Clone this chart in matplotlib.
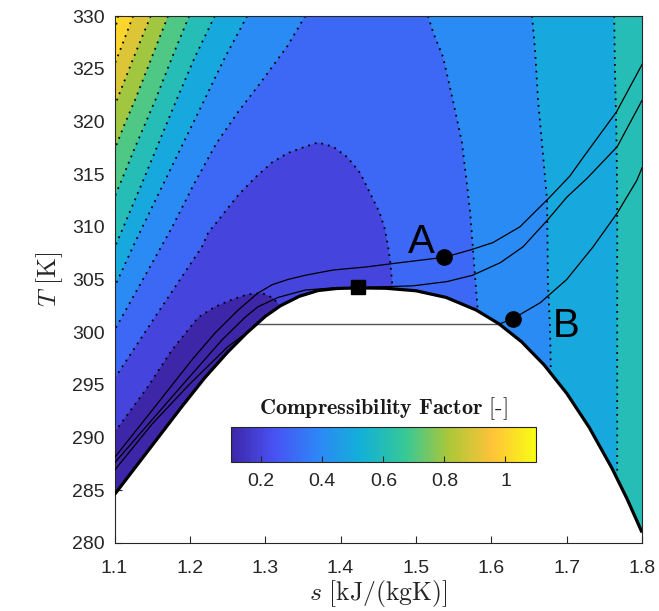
import numpy as np
import matplotlib
matplotlib.use("Agg")
import matplotlib.pyplot as plt
from matplotlib.colors import LinearSegmentedColormap, Normalize
from matplotlib.cm import ScalarMappable

plt.rcParams['font.family'] = ['Liberation Sans', 'DejaVu Sans']
plt.rcParams['mathtext.fontset'] = 'cm'

#%% data (s in kJ/(kgK), T in K)
# saturation dome
dome_s = [1.100, 1.130, 1.160, 1.190, 1.220, 1.250, 1.275, 1.300, 1.320, 1.345,
          1.370, 1.395, 1.423, 1.460, 1.500, 1.540, 1.580, 1.610, 1.640, 1.670,
          1.700, 1.730, 1.760, 1.780, 1.800]
dome_T = [284.6, 287.4, 290.2, 293.0, 295.7, 298.1, 299.9, 301.5, 302.5, 303.4,
          303.95, 304.15, 304.2, 304.17, 303.93, 303.3, 302.1, 300.8, 299.1, 296.9,
          294.2, 290.95, 287.1, 284.2, 281.0]

# compressibility factor contour lines (dotted)
# left branches run from the top edge down to the left edge
c11_s = [1.1046, 1.100]
c11_T = [330.0, 328.4]
c10_s = [1.1246, 1.112, 1.100]
c10_T = [330.0, 327.6, 325.4]
c09_s = [1.148, 1.125, 1.103, 1.100]
c09_T = [330.0, 326.0, 322.0, 321.4]
c08_s = [1.171, 1.149, 1.127, 1.112, 1.100]
c08_T = [330.0, 326.0, 322.0, 319.5, 317.3]
c07_s = [1.199, 1.176, 1.154, 1.127, 1.100]
c07_T = [330.0, 326.0, 322.0, 317.5, 312.8]
c06_s = [1.233, 1.206, 1.182, 1.138, 1.103, 1.100]
c06_T = [330.0, 326.0, 322.0, 314.4, 308.5, 308.1]
c05_s = [1.276, 1.246, 1.219, 1.167, 1.127, 1.100]
c05_T = [330.0, 326.0, 322.0, 314.4, 308.5, 304.3]
c04_s = [1.353, 1.329, 1.293, 1.265, 1.235, 1.205, 1.176, 1.140, 1.100]
c04_T = [330.0, 327.1, 323.6, 321.0, 317.9, 314.0, 309.9, 305.3, 300.2]
# right branches run from the top edge down to the dome
c04r_s = [1.516, 1.523, 1.536, 1.549, 1.561, 1.569, 1.572, 1.576, 1.582]
c04r_T = [330.0, 328.4, 326.1, 322.0, 318.0, 313.2, 311.3, 307.5, 302.0]
c05r_s = [1.654, 1.658, 1.662, 1.668, 1.674, 1.675, 1.678, 1.679]
c05r_T = [330.0, 326.8, 322.0, 317.3, 312.5, 305.0, 300.2, 295.8]
c06r_s = [1.763, 1.764, 1.766, 1.767, 1.767, 1.767]
c06r_T = [330.0, 325.0, 318.7, 312.3, 302.4, 286.8]
# closed lobes: left edge -> dome
c03_s = [1.100, 1.158, 1.216, 1.224, 1.243, 1.264, 1.287, 1.309, 1.330, 1.353,
         1.370, 1.390, 1.409, 1.426, 1.439, 1.452, 1.459, 1.463, 1.466, 1.469]
c03_T = [295.6, 301.9, 308.1, 309.4, 311.1, 313.0, 314.7, 316.1, 317.0, 317.6,
         318.0, 317.6, 316.6, 315.1, 313.2, 311.3, 309.7, 308.1, 306.6, 304.15]
c02_s = [1.100, 1.144, 1.176, 1.211, 1.233, 1.256, 1.277, 1.296, 1.309, 1.320]
c02_T = [290.5, 294.8, 298.3, 301.4, 302.4, 303.1, 303.6, 303.7, 303.3, 302.5]

# isobars (solid)
p_hi_s = [1.100, 1.150, 1.203, 1.233, 1.264, 1.290, 1.309, 1.330, 1.353, 1.390,
          1.435, 1.479, 1.537, 1.572, 1.602, 1.638, 1.676, 1.704, 1.722, 1.766, 1.800]
p_hi_T = [288.1, 292.6, 297.4, 299.9, 302.1, 303.7, 304.5, 305.0, 305.4, 305.9,
          306.2, 306.6, 307.1, 307.8, 308.5, 310.0, 312.7, 314.8, 316.6, 320.9, 325.4]
p_cr_s = [1.100, 1.184, 1.211, 1.243, 1.273, 1.290, 1.317, 1.353, 1.390, 1.423,
          1.452, 1.496, 1.541, 1.575, 1.612, 1.642, 1.674, 1.700, 1.727, 1.767, 1.800]
p_cr_T = [287.6, 294.5, 296.7, 299.3, 301.4, 302.4, 303.3, 304.0, 304.2, 304.25,
          304.3, 304.4, 304.8, 305.4, 306.6, 308.1, 310.6, 312.8, 314.6, 317.6, 322.0]
p_lo_liq_s = [1.100, 1.150, 1.200, 1.250, 1.290]
p_lo_liq_T = [286.9, 291.3, 295.1, 298.6, 300.75]
p_lo_vap_s = [1.610, 1.629, 1.665, 1.700, 1.735, 1.767, 1.793, 1.800]
p_lo_vap_T = [300.75, 301.3, 302.8, 305.0, 308.1, 311.3, 314.4, 315.6]
p_lo_sat_T = 300.75

# marked states
crit_s, crit_T = 1.423, 304.25
state_s = [1.537, 1.629]
state_T = [307.1, 301.25]
state_lab = ['A', 'B']
lab_s = [1.5074, 1.6991]
lab_T = [307.5, 299.5]

# compressibility factor levels and colour scale
levels = [0.2, 0.3, 0.4, 0.5, 0.6, 0.7, 0.8, 0.9, 1.0, 1.1]
z_min, z_max = 0.1, 1.1
cb_ticks = [0.2, 0.4, 0.6, 0.8, 1.0]
cb_ticklabels = ['0.2', '0.4', '0.6', '0.8', '1']

parula = LinearSegmentedColormap.from_list(
    'parula', ['#3e26a8', '#4852f4', '#2d87f7', '#12b1d6',
               '#37c897', '#abc739', '#fec338', '#f9fb14'])
norm = Normalize(z_min, z_max)

#%% helpers to build the filled bands
def dome_part(s0, s1):
    s = [s0] + [x for x in dome_s if s0 < x < s1] + [s1]
    return list(zip(s, np.interp(s, dome_s, dome_T)))

left_lines = {1.1: (c11_s, c11_T), 1.0: (c10_s, c10_T), 0.9: (c09_s, c09_T),
              0.8: (c08_s, c08_T), 0.7: (c07_s, c07_T), 0.6: (c06_s, c06_T),
              0.5: (c05_s, c05_T), 0.4: (c04_s, c04_T)}
right_lines = {0.6: (c06r_s, c06r_T), 0.5: (c05r_s, c05r_T), 0.4: (c04r_s, c04r_T)}
lobes = {0.3: (c03_s, c03_T), 0.2: (c02_s, c02_T)}

fig = plt.figure(figsize=(6.59, 6.11), dpi=100)
ax = fig.add_axes([0.1738, 0.1113, 0.8005, 0.8625])

# region above the dome, highest band
poly = [(1.1, 330)] + dome_part(1.1, 1.8) + [(1.8, 330)]
ax.fill(*zip(*poly), color=parula(norm(1.1)), lw=0, zorder=1)

# nested regions Z < level, painted from high to low
for lev in sorted(levels, reverse=True):
    col = parula(norm(lev - 0.1))
    if lev in lobes:
        s, T = lobes[lev]
        poly = list(zip(s, T)) + dome_part(1.1, s[-1])[::-1]
    elif lev in right_lines:
        s, T = left_lines[lev]
        sr, Tr = right_lines[lev]
        poly = list(zip(s, T)) + dome_part(1.1, sr[-1]) + list(zip(sr, Tr))[::-1]
    else:
        s, T = left_lines[lev]
        poly = list(zip(s, T)) + dome_part(1.1, 1.8) + [(1.8, 330)]
    ax.fill(*zip(*poly), color=col, lw=0, zorder=1)

# dotted contour lines
dot = dict(color='black', lw=1.3, ls=(0, (1, 2.8)), zorder=2)
for s, T in list(left_lines.values()) + list(right_lines.values()) + list(lobes.values()):
    ax.plot(s, T, **dot)

# isobars
iso = dict(color='black', lw=0.9, zorder=3)
ax.plot(p_hi_s, p_hi_T, **iso)
ax.plot(p_cr_s, p_cr_T, **iso)
ax.plot(p_lo_liq_s, p_lo_liq_T, **iso)
ax.plot(p_lo_vap_s, p_lo_vap_T, **iso)
ax.plot([p_lo_liq_s[-1], p_lo_vap_s[0]], [p_lo_sat_T, p_lo_sat_T],
        color='#555555', lw=1.0, zorder=3)

# saturation dome
ax.plot(dome_s, dome_T, color='black', lw=2.3, zorder=4, solid_capstyle='butt')

# critical point and states
ax.plot(crit_s, crit_T, 's', color='black', ms=10, zorder=5)
ax.plot(state_s, state_T, 'o', color='black', ms=11, zorder=5)
for s, T, lab in zip(lab_s, lab_T, state_lab):
    ax.text(s, T, lab, fontsize=29, ha='center', va='baseline', zorder=6)

# axes formatting
ax.set_xlim(1.1, 1.8)
ax.set_ylim(280, 330)
ax.set_axisbelow(True)
ax.set_xticks(np.arange(1.1, 1.81, 0.1))
ax.set_xticklabels(['1.1', '1.2', '1.3', '1.4', '1.5', '1.6', '1.7', '1.8'])
ax.set_yticks(np.arange(280, 331, 5))
ax.tick_params(direction='in', length=5, width=0.8, labelsize=14,
               color='#262626', labelcolor='#262626')
ax.tick_params(axis='x', pad=12)
ax.tick_params(axis='y', pad=7)
for sp in ax.spines.values():
    sp.set_color('#262626')
    sp.set_linewidth(0.8)
ax.set_xlabel(r'$s\ [\mathrm{kJ/(kgK)}]$', fontsize=18.5, labelpad=1, color='#262626')
ax.set_ylabel(r'$T\ [\mathrm{K}]$', fontsize=18.5, labelpad=5, color='#262626')

# colour bar inset
cax = fig.add_axes([0.3501, 0.2444, 0.4633, 0.0568])
cb = fig.colorbar(ScalarMappable(norm=norm, cmap=parula), cax=cax,
                  orientation='horizontal', ticks=cb_ticks)
cb.ax.set_xticklabels(cb_ticklabels)
cb.ax.tick_params(direction='in', length=4, width=0.8, labelsize=14, pad=8,
                  color='#262626', labelcolor='#262626')
cb.outline.set_edgecolor('#262626')
cb.outline.set_linewidth(0.8)
fig.text(383.3 / 659, 1 - 414 / 611,
         r'$\mathbf{Compressibility\ Factor\ [}\text{-}\mathbf{]}$',
         fontsize=16, ha='center', va='baseline', color='#1a1a1a')

plt.savefig('out.png', dpi=100)
